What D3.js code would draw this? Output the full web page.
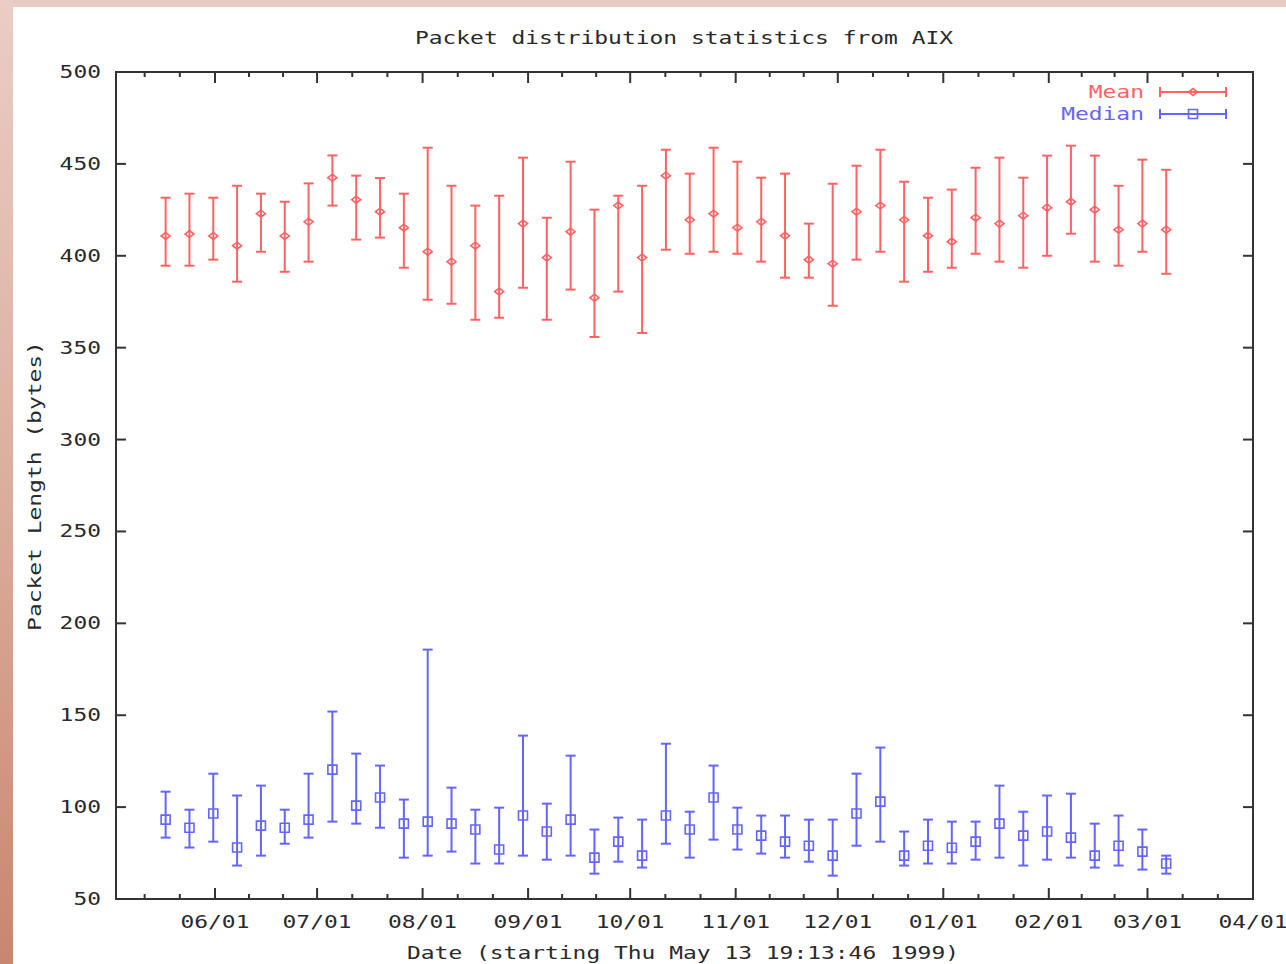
<!DOCTYPE html>
<html>
<head>
<meta charset="utf-8">
<script src="https://cdn.jsdelivr.net/npm/d3@7"></script>
<style>
  html, body { margin: 0; padding: 0; background: #fff; }
  svg { display: block; }
</style>
</head>
<body>
<div id="chart"></div>
<script>
// weekly sample dates (middle of each week)
const weeks = [
  '1999-05-17', '1999-05-24', '1999-05-31', '1999-06-07', '1999-06-14', '1999-06-21', '1999-06-28',
  '1999-07-05', '1999-07-12', '1999-07-19', '1999-07-26', '1999-08-02', '1999-08-09', '1999-08-16',
  '1999-08-23', '1999-08-30', '1999-09-06', '1999-09-13', '1999-09-20', '1999-09-27', '1999-10-04',
  '1999-10-11', '1999-10-18', '1999-10-25', '1999-11-01', '1999-11-08', '1999-11-15', '1999-11-22',
  '1999-11-29', '1999-12-06', '1999-12-13', '1999-12-20', '1999-12-27', '2000-01-03', '2000-01-10',
  '2000-01-17', '2000-01-24', '2000-01-31', '2000-02-07', '2000-02-14', '2000-02-21', '2000-02-28',
  '2000-03-06'
];

// Mean: value, low, high
const meanVal = [410.8, 411.8, 410.8, 405.5, 422.9, 410.8, 418.5, 442.5, 430.5, 424.0, 415.3, 402.2, 396.8, 405.5,
  380.5, 417.5, 399.0, 413.1, 377.2, 427.3, 399.0, 443.6, 419.6, 422.9, 415.3, 418.5, 410.9, 397.9,
  395.7, 424.0, 427.3, 419.6, 410.9, 407.7, 420.7, 417.5, 421.8, 426.2, 429.4, 425.1, 414.2, 417.5, 414.2];
const meanLow = [394.6, 394.6, 397.9, 385.9, 402.2, 391.3, 396.8, 427.3, 408.8, 409.9, 393.5, 376.1, 373.9, 365.2,
  366.3, 382.6, 365.2, 381.6, 355.8, 380.5, 358.0, 403.3, 401.1, 402.2, 401.1, 396.8, 388.1, 388.1,
  372.8, 397.9, 402.2, 385.9, 391.3, 393.5, 401.1, 396.8, 393.5, 400.0, 412.0, 396.8, 394.6, 402.2, 390.2];
const meanHigh = [431.6, 433.8, 431.6, 438.1, 433.8, 429.4, 439.4, 454.6, 443.6, 442.3, 433.8, 458.8, 438.1, 427.3,
  432.7, 453.4, 420.7, 451.2, 425.1, 432.7, 438.1, 457.7, 444.7, 458.8, 451.2, 442.5, 444.7, 417.5,
  439.2, 449.0, 457.7, 440.3, 431.6, 436.0, 447.9, 453.4, 442.5, 454.5, 459.9, 454.5, 438.1, 452.3, 446.8];

// Median: value, low, high
const medianVal = [93.2, 88.8, 96.5, 78.0, 89.9, 88.8, 93.2, 120.4, 100.8, 105.2, 91.0, 92.1, 91.0, 87.8,
  76.9, 95.4, 86.7, 93.2, 72.5, 81.2, 73.6, 95.4, 87.8, 105.2, 87.8, 84.5, 81.2, 79.0,
  73.6, 96.5, 103.0, 73.6, 79.0, 77.9, 81.2, 91.0, 84.5, 86.7, 83.4, 73.6, 79.0, 75.8, 69.3];
const medianLow = [83.4, 78.0, 81.2, 68.2, 73.6, 80.1, 83.4, 92.1, 91.0, 88.8, 72.5, 73.6, 75.8, 69.3,
  69.3, 73.6, 71.4, 73.6, 63.8, 70.3, 67.1, 80.1, 72.5, 82.3, 76.9, 74.7, 72.5, 70.3,
  62.7, 79.0, 81.2, 68.2, 69.3, 69.3, 71.4, 72.5, 68.2, 71.4, 72.5, 67.1, 68.2, 66.0, 63.8];
const medianHigh = [108.4, 98.6, 118.2, 106.3, 111.7, 98.6, 118.2, 152.0, 129.1, 122.6, 104.1, 185.7, 110.6, 98.6,
  99.7, 138.9, 101.9, 128.0, 87.8, 94.3, 93.2, 134.5, 97.5, 122.6, 99.7, 95.4, 95.4, 93.2,
  93.2, 118.2, 132.4, 86.7, 93.2, 92.1, 92.1, 111.7, 97.5, 106.3, 107.3, 91.0, 95.4, 87.8, 73.6];

const yTicks = [50, 100, 150, 200, 250, 300, 350, 400, 450, 500];
const xTickLabels = ['06/01', '07/01', '08/01', '09/01', '10/01', '11/01', '12/01', '01/01', '02/01', '03/01', '04/01'];

const svgwidth = 1286;
const svgheight = 964;
const margin = { left: 116, right: 33, top: 72, bottom: 65 };
const width = svgwidth - margin.left - margin.right;
const height = svgheight - margin.top - margin.bottom;
const charW = 13.8;
const redC = '#ff6262';
const blueC = '#6464ff';
const axisC = '#333';

const svg = d3.select('#chart').append('svg')
  .attr('width', svgwidth)
  .attr('height', svgheight);

// pinkish page edge
const grad = svg.append('defs').append('linearGradient')
  .attr('id', 'edge')
  .attr('x1', 0).attr('y1', 0).attr('x2', 0).attr('y2', 1);
grad.append('stop').attr('offset', '0%').attr('stop-color', '#eacdc6');
grad.append('stop').attr('offset', '50%').attr('stop-color', '#dcae9e');
grad.append('stop').attr('offset', '100%').attr('stop-color', '#c9866f');
svg.append('rect').attr('x', 0).attr('y', 0).attr('width', svgwidth).attr('height', 7).attr('fill', '#e9cbc4');
svg.append('rect').attr('x', 0).attr('y', 0).attr('width', 13).attr('height', svgheight).attr('fill', 'url(#edge)');

// monospaced text, stretched to the wide gnuplot font
function label(parent, str, x, y, anchor, color) {
  return parent.append('text')
    .attr('x', x)
    .attr('y', y)
    .attr('text-anchor', anchor || 'middle')
    .attr('dominant-baseline', 'central')
    .attr('font-family', '"DejaVu Sans Mono", "Liberation Mono", monospace')
    .attr('font-size', '17px')
    .attr('fill', color || '#2a2a2a')
    .attr('textLength', str.length * charW)
    .attr('lengthAdjust', 'spacingAndGlyphs')
    .text(str);
}

const g = svg.append('g').attr('transform', `translate(${margin.left},${margin.top})`);

const parse = d3.utcParse('%Y-%m-%d');
const x = d3.scaleUtc()
  .domain([new Date(Date.UTC(1999, 4, 2, 22)), new Date(Date.UTC(2000, 3, 1))])
  .range([0, width]);
const y = d3.scaleLinear()
  .domain([50, 500])
  .range([height, 0]);

// x ticks: months, with two minor ticks between
const months = d3.utcMonth.range(new Date(Date.UTC(1999, 4, 1)), new Date(Date.UTC(2000, 3, 2)));
const minor = [];
months.forEach((m, i) => {
  if (i === months.length - 1) return;
  const next = months[i + 1];
  const span = next - m;
  minor.push(new Date(+m + span / 3), new Date(+m + (2 * span) / 3));
});
const majorX = months.slice(1);

g.selectAll('.xmajor')
  .data(majorX)
  .enter()
  .append('g')
  .attr('class', 'xmajor')
  .each(function (d) {
    const t = d3.select(this);
    t.append('line').attr('x1', x(d)).attr('x2', x(d)).attr('y1', height).attr('y2', height - 11);
    t.append('line').attr('x1', x(d)).attr('x2', x(d)).attr('y1', 0).attr('y2', 11);
  })
  .attr('stroke', axisC)
  .attr('stroke-width', 2);
g.selectAll('.xminor')
  .data(minor.filter(d => x(d) > 0 && x(d) < width))
  .enter()
  .append('g')
  .attr('class', 'xminor')
  .each(function (d) {
    const t = d3.select(this);
    t.append('line').attr('x1', x(d)).attr('x2', x(d)).attr('y1', height).attr('y2', height - 5);
    t.append('line').attr('x1', x(d)).attr('x2', x(d)).attr('y1', 0).attr('y2', 5);
  })
  .attr('stroke', axisC)
  .attr('stroke-width', 2);
majorX.forEach((d, i) => label(g, xTickLabels[i], x(d), height + 23));

// y ticks, mirrored on the right border
yTicks.forEach((v) => {
  g.append('line').attr('x1', 0).attr('x2', 10).attr('y1', y(v)).attr('y2', y(v))
    .attr('stroke', axisC).attr('stroke-width', 2);
  g.append('line').attr('x1', width).attr('x2', width - 10).attr('y1', y(v)).attr('y2', y(v))
    .attr('stroke', axisC).attr('stroke-width', 2);
  label(g, String(v), -15, y(v), 'end');
});

// frame
g.append('rect')
  .attr('x', 0).attr('y', 0)
  .attr('width', width).attr('height', height)
  .attr('fill', 'none')
  .attr('stroke', axisC)
  .attr('stroke-width', 2);

// titles
label(svg, 'Packet distribution statistics from AIX', 684, 38);
label(svg, 'Date (starting Thu May 13 19:13:46 1999)', 683, 953);
label(svg, 'Packet Length (bytes)', 0, 0)
  .attr('transform', 'translate(35,486) rotate(-90)');

// error bars
const capW = 5;
function errorBars(vals, lows, highs, color, marker) {
  const data = weeks.map((w, i) => ({ t: new Date(+parse(w) + 12 * 3600 * 1000), v: vals[i], lo: lows[i], hi: highs[i] }));
  const s = g.append('g').attr('stroke', color).attr('stroke-width', 2).attr('fill', 'none');
  const bar = s.selectAll('.bar')
    .data(data)
    .enter()
    .append('g')
    .attr('class', 'bar');
  bar.append('line')
    .attr('x1', d => x(d.t)).attr('x2', d => x(d.t))
    .attr('y1', d => y(d.lo)).attr('y2', d => y(d.hi));
  bar.append('line')
    .attr('x1', d => x(d.t) - capW).attr('x2', d => x(d.t) + capW)
    .attr('y1', d => y(d.lo)).attr('y2', d => y(d.lo));
  bar.append('line')
    .attr('x1', d => x(d.t) - capW).attr('x2', d => x(d.t) + capW)
    .attr('y1', d => y(d.hi)).attr('y2', d => y(d.hi));
  bar.append('path')
    .attr('stroke-width', 1.6)
    .attr('d', d => marker(x(d.t), y(d.v)));
}
const diamond = (cx, cy) => `M${cx - 4.5},${cy}L${cx},${cy - 3.5}L${cx + 4.5},${cy}L${cx},${cy + 3.5}Z`;
const square = (cx, cy) => `M${cx - 4.5},${cy - 4.5}h9v9h-9Z`;

errorBars(meanVal, meanLow, meanHigh, redC, diamond);
errorBars(medianVal, medianLow, medianHigh, blueC, square);

// legend
const legend = [
  { name: 'Mean', color: redC, marker: diamond, y: 92 },
  { name: 'Median', color: blueC, marker: square, y: 114 },
];
legend.forEach((l) => {
  label(svg, l.name, 1144, l.y, 'end', l.color);
  const k = svg.append('g').attr('stroke', l.color).attr('stroke-width', 2).attr('fill', 'none');
  k.append('line').attr('x1', 1160).attr('x2', 1226).attr('y1', l.y).attr('y2', l.y);
  k.append('line').attr('x1', 1160).attr('x2', 1160).attr('y1', l.y - 5).attr('y2', l.y + 5);
  k.append('line').attr('x1', 1226).attr('x2', 1226).attr('y1', l.y - 5).attr('y2', l.y + 5);
  k.append('path').attr('stroke-width', 1.6).attr('d', l.marker(1193, l.y));
});
</script>
</body>
</html>
